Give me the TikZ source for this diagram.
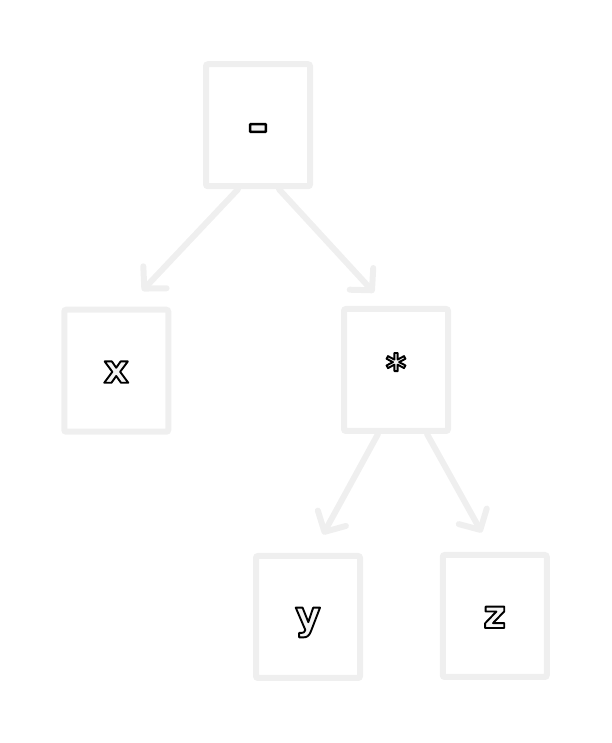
\documentclass[tikz,border=0pt]{standalone}
\usepackage{fontspec}
\setmainfont{DejaVu Sans}
\usetikzlibrary{arrows.meta,calc}
\definecolor{boxgray}{RGB}{239,239,239}
\definecolor{txtfill}{RGB}{244,244,244}
\newcommand{\outltext}[1]{\special{pdf:literal direct 2 Tr 1.9 w 1 j 0 0 0 RG}#1\special{pdf:literal direct 0 Tr}}
\tikzset{
  treebox/.style={draw=boxgray, line width=6pt, rounded corners=2pt,
    minimum width=104pt, minimum height=122pt, inner sep=0pt, outer sep=0pt,
    font=\fontsize{39pt}{44pt}\selectfont\bfseries, text=txtfill,
    text height=24pt, text depth=0pt},
  treearrow/.style={draw=boxgray, line width=6pt, line cap=round, line join=round,
    -{Straight Barb[length=15.5pt,width=32pt,line cap=round,line join=round]}}
}
\begin{document}
\begin{tikzpicture}[x=1pt,y=1pt]
\useasboundingbox (0,0) rectangle (611,743);
\node[treebox] (root) at (258,617.75) {\outltext{\raisebox{-6.5pt}{\scalebox{1.3}[1.4]{-}}}};
\node[treebox] (x) at (116.25,372.25) {\outltext{x}};
\node[treebox] (mul) at (396,373) {\outltext{*}};
\node[treebox] (y) at (308,126) {\outltext{y}};
\node[treebox] (z) at (494.75,127) {\outltext{z}};
\draw[treearrow] ([xshift=-20pt,yshift=-3pt]root.south) -- ([xshift=26pt,yshift=19pt]x.north);
\draw[treearrow] ([xshift=21pt,yshift=-3pt]root.south) -- ([xshift=-22pt,yshift=16.5pt]mul.north);
\draw[treearrow] ([xshift=-18pt,yshift=-3pt]mul.south) -- ([xshift=15pt,yshift=21.5pt]y.north);
\draw[treearrow] ([xshift=31pt,yshift=-3pt]mul.south) -- ([xshift=-13pt,yshift=22.5pt]z.north);
\end{tikzpicture}
\end{document}
